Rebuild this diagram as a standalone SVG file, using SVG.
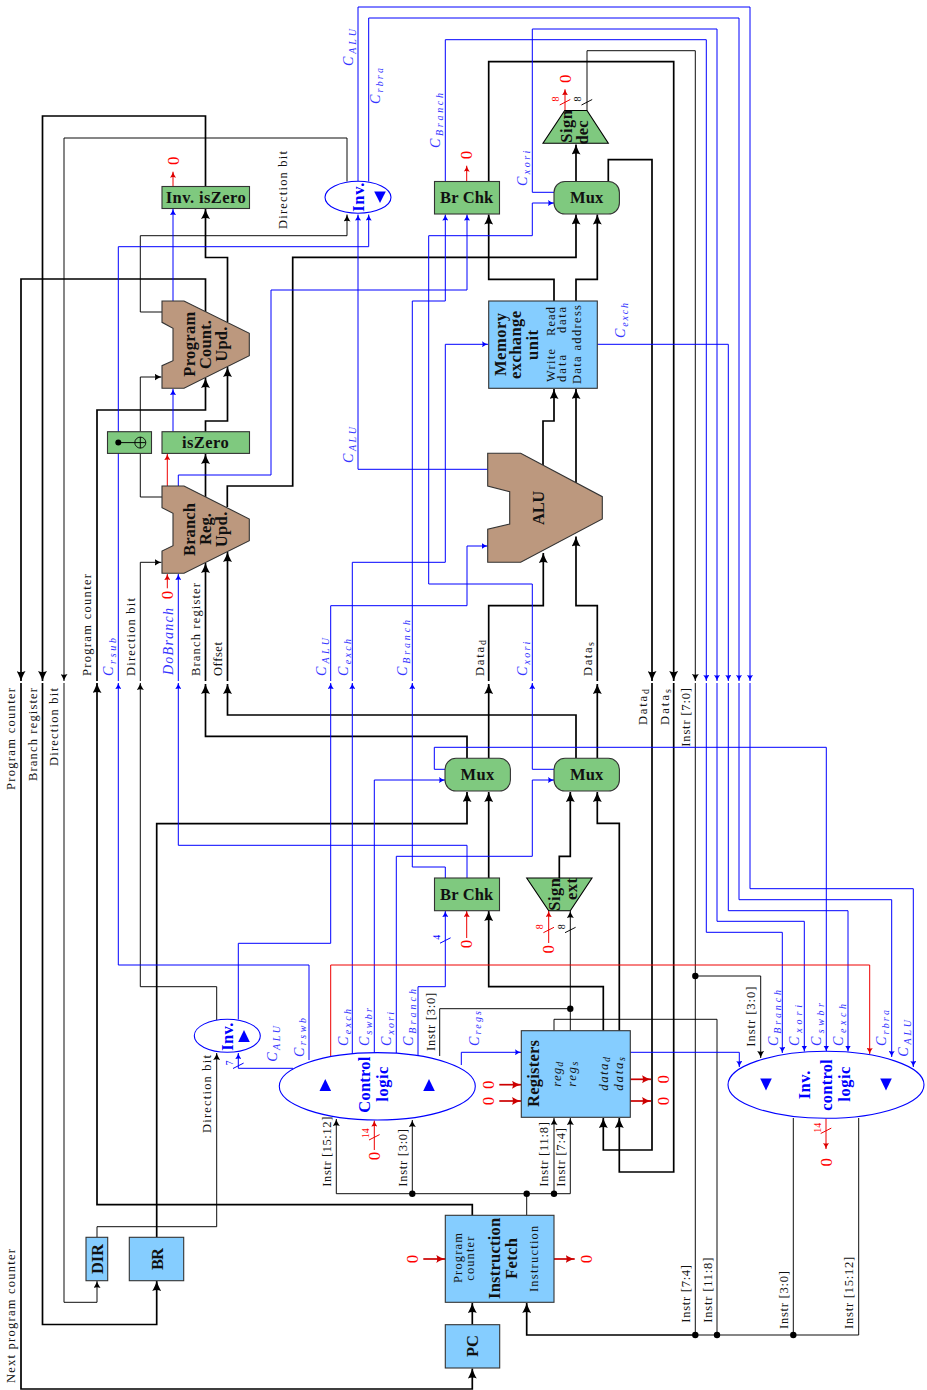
<svg xmlns="http://www.w3.org/2000/svg" width="927" height="1390" viewBox="0 0 927 1390">
<style>
path{fill:none}
.tk{stroke:#000;stroke-width:1.7}
.tn{stroke:#000;stroke-width:.95}
.b{stroke:#00f;stroke-width:1}
.r{stroke:#e00;stroke-width:1}
.rk{stroke:#c00;stroke-width:1.7}
.atk{marker-end:url(#ak)}
.atn{marker-end:url(#an)}
.ab{marker-end:url(#ab)}
.ar{marker-end:url(#ar)}
.ark{marker-end:url(#ark)}
.nb{stroke:#333;stroke-width:1.1}
.blue{fill:#85cdff}
.green{fill:#7fc97f}
.brown{fill:#bc987e}
.oval{fill:#fff;stroke:#00f;stroke-width:1.1}
text{font-family:"Liberation Serif","DejaVu Serif",serif;fill:#111}
.l{font-size:12.5px}
.i{font-size:13px;font-style:italic}
.m{font-size:14px;font-style:italic;fill:#3535ff}
.s{font-size:10px}
.h{font-size:16.5px;font-weight:bold}
.hb{font-size:16.5px;font-weight:bold;fill:#00f}
.z{font-size:17px;fill:#f00;text-anchor:middle}
.n{font-size:10px;text-anchor:middle}
.nr{font-size:10px;text-anchor:middle;fill:#f00}
.nu{font-size:10px;text-anchor:middle;fill:#00f}
</style>
<defs>
<marker id="ak" markerWidth="10" markerHeight="9" refX="10" refY="4.5" orient="auto" markerUnits="userSpaceOnUse"><path d="M10,4.5C7,3.5 3,2 0,0C1.5,2.5 1.5,6.5 0,9C3,7 7,5.5 10,4.5Z" style="fill:#000"/></marker>
<marker id="an" markerWidth="7" markerHeight="7" refX="7" refY="3.5" orient="auto" markerUnits="userSpaceOnUse"><path d="M7,3.5C5,3 2,1.5 0,0C1,2 1,5 0,7C2,5.5 5,4 7,3.5Z" style="fill:#000"/></marker>
<marker id="ab" markerWidth="6" markerHeight="6" refX="6" refY="3" orient="auto" markerUnits="userSpaceOnUse"><path d="M6,3C4,2.5 2,1.5 0,0C.8,2 .8,4 0,6C2,4.5 4,3.5 6,3Z" style="fill:#00f"/></marker>
<marker id="ar" markerWidth="6" markerHeight="6" refX="6" refY="3" orient="auto" markerUnits="userSpaceOnUse"><path d="M6,3C4,2.5 2,1.5 0,0C.8,2 .8,4 0,6C2,4.5 4,3.5 6,3Z" style="fill:#d00"/></marker>
<marker id="ark" markerWidth="9" markerHeight="8" refX="9" refY="4" orient="auto" markerUnits="userSpaceOnUse"><path d="M9,4C6,3.3 3,2 0,0C1.3,2.5 1.3,5.5 0,8C3,6 6,4.7 9,4Z" style="fill:#c00"/></marker>
</defs>
<g id="connectors">
<g class="tk">
<path class="atk" d="M205.5,186.5V116H42.5V681"/>
<path class="atk" d="M42.5,683V1324.5H156.7V1281"/>
<path class="atk" d="M205.5,312V279H21V681"/>
<path class="atk" d="M21,683V1389H472.3V1368.5"/>
<path class="atk" d="M227.5,322V257.5H205.5V209"/>
<path class="atk" d="M205.5,432V421H227.5V367"/>
<path class="atk" d="M472.3,1215.5V1204.7H97V683"/>
<path class="atk" d="M97,681V410H205.5V378"/>
<path class="atk" d="M205.5,497V454"/>
<path class="atk" d="M227.3,507V486H292.7V257.3H576V214.5"/>
<path class="atk" d="M467,758V736.3H205.5V684"/>
<path class="atk" d="M205.5,681V563"/>
<path class="atk" d="M576,758V715H227.5V684"/>
<path class="atk" d="M227.5,681V552"/>
<path class="atk" d="M488.7,758V684"/>
<path class="atk" d="M488.7,681V605.7H543.3V553"/>
<path class="atk" d="M597.3,758V684"/>
<path class="atk" d="M597.3,681V605.7H576V536.5"/>
<path class="atk" d="M543,465V421H554V389"/>
<path class="atk" d="M576,483V389"/>
<path class="atk" d="M554,301V279.3H488.7V214.5"/>
<path class="atk" d="M576,301V279.3H597.3V214.5"/>
<path class="atk" d="M576,181.5V144.5"/>
<path class="atk" d="M608.3,181.5V159.7H652V681"/>
<path class="atk" d="M652,683V1150H603.3V1118"/>
<path class="atk" d="M488.7,181.5V61.7H673.7V681"/>
<path class="atk" d="M673.7,683V1172H619.3V1118"/>
<path class="atk" d="M603.3,1030.7V986.7H488.7V911"/>
<path class="atk" d="M619.3,1030.7V823.3H597.3V792"/>
<path class="atk" d="M488.7,878V792"/>
<path class="atk" d="M559.3,878V856.3H570.3V792"/>
<path class="atk" d="M156.7,1237V823.7H467V792"/>
<path class="atk" d="M695.3,1335H526.7V1303"/>
<path class="atk" d="M472.3,1324.7V1303"/>
</g>
<g class="tn">
<path class="atn" d="M347,181.5V138H64V681"/>
<path class="atn" d="M64,683V1302.3H97V1281"/>
<path class="atn" d="M97,1237V1226.7H216.7V1053"/>
<path class="atn" d="M216.7,1020V986.7H140.3V683"/>
<path class="atn" d="M140.3,681V562.3H161.5"/>
<path d="M162,497H140.3V453.5"/>
<path class="atn" d="M140.3,431.7V377H161.5"/>
<path class="atn" d="M162,312H140.3V235.7H347V214.5"/>
<path class="atn" d="M587,110.5V50.7H695.3V681"/>
<path d="M695.3,683V1335H858.7V1118"/>
<path d="M793.3,1335V1118"/>
<path d="M717,1335V1019.3H554V1030.7"/>
<path class="atn" d="M695.3,976H760.7V1058"/>
<path class="atn" d="M570.3,1030.7V911"/>
<path d="M570.3,1008.7H439.7V1056"/>
<path class="atn" d="M570.3,1193.7H336.3V1119"/>
<path class="atn" d="M570.3,1193.7V1118"/>
<path class="atn" d="M554,1193.7V1118"/>
<path class="atn" d="M412.3,1193.7V1120"/>
<path d="M526.7,1215V1193.7"/>
</g>
<g class="b">
<path class="ab" d="M309,1060V965H118.3V683"/>
<path class="ab" d="M118.3,681V246.7H368.7V214.5"/>
<path class="ab" d="M238.3,1019.5V943.3H330.7V683"/>
<path class="ab" d="M330.7,681V605.7H467V546H487.5"/>
<path class="ab" d="M352.3,1054V683"/>
<path class="ab" d="M352.3,681V562.3H445.3V344.3H488"/>
<path class="ab" d="M374.3,1053V780H445"/>
<path class="ab" d="M396.3,1053V856.3H532.3V780H554"/>
<path class="ab" d="M418,1056V986.7H445.3V911"/>
<path class="ab" d="M461.3,1065V1052.3H521"/>
<path class="ab" d="M630.3,1052.3H739.3V1067"/>
<path class="ab" d="M445.3,181.5V39.7H706.3V681"/>
<path class="ab" d="M706.3,683V932.3H782.3V1053"/>
<path class="ab" d="M554,192.3H532.3V29H717V681"/>
<path class="ab" d="M717,683V921.3H804.3V1051.5"/>
<path class="ab" d="M597.3,344.3H728.3V681"/>
<path class="ab" d="M728.3,683V910.7H848V1051.5"/>
<path class="ab" d="M368.7,181.5V18H739V681"/>
<path class="ab" d="M739,683V899.7H891.7V1057"/>
<path class="ab" d="M358,181.5V7H750V681"/>
<path class="ab" d="M750,683V888.7H913.3V1067"/>
<path class="ab" d="M445,769.3H434.3V747.3H826.3V1051.5"/>
<path class="ab" d="M554,769.3H532.3V683"/>
<path class="ab" d="M532.3,681V584H428.7V235.7H532.3V203H554"/>
<path class="ab" d="M445.3,878V867H412.3V683"/>
<path class="ab" d="M412.3,681V301H445.3V214.5"/>
<path class="ab" d="M467,878V845.3H178.3V683"/>
<path class="ab" d="M178.3,681V574"/>
<path class="ab" d="M178.3,486V475H271V290H467V214.5"/>
<path class="ab" d="M173,431.7V389"/>
<path class="ab" d="M173,301V209"/>
<path class="ab" d="M487.7,469.3H358V214.5"/>
<path class="ab" d="M293,1068.3H238.3V1053"/>
</g>
<g class="r">
<path class="ar" d="M330.7,1056V965H869.7V1054"/>
<path class="ar" d="M173,186.5V171.7"/>
<path class="ar" d="M466.7,181.5V165.7"/>
<path class="ar" d="M565,110.5V89.3"/>
<path class="ar" d="M167.3,486V454"/>
<path class="ar" d="M167.3,588.3V574"/>
<path class="ar" d="M466.7,938V911"/>
<path class="ar" d="M548.7,943V911"/>
<path class="ar" d="M374.3,1150V1120.5"/>
<path class="ar" d="M826,1118.5V1149"/>
<path d="M559.7,105L570.3,99.5"/>
<path d="M543.4,932.7L554,927.3"/>
<path d="M369,1140L379.6,1134.6"/>
<path d="M820.7,1133.5L831.3,1128.1"/>
</g>
<g class="rk">
<path class="ark" d="M499.3,1084.7H521"/>
<path class="ark" d="M499.3,1101H521"/>
<path class="ark" d="M630.3,1079.3H651"/>
<path class="ark" d="M630.3,1101H651"/>
<path class="ark" d="M423.3,1259H445.3"/>
<path class="ark" d="M554,1259H574.7"/>
</g>
<path class="tn" d="M581.5,105L592.2,99.5M565,932.7L575.6,927.3"/>
<path class="b" d="M440,943.2L450.6,937.8M233,1068.5L243.6,1063.1"/>
<g style="fill:#000">
<circle cx="412.3" cy="1193.7" r="3.2"/>
<circle cx="526.7" cy="1193.7" r="3.2"/>
<circle cx="554" cy="1193.7" r="3.2"/>
<circle cx="570.3" cy="1008.7" r="3.2"/>
<circle cx="695.3" cy="976" r="3.2"/>
<circle cx="695.3" cy="1335" r="3.2"/>
<circle cx="717" cy="1335" r="3.2"/>
<circle cx="793.3" cy="1335" r="3.2"/>
</g>
</g>

<g id="inv-iszero"><rect class="green nb" x="162" y="186.5" width="87.5" height="22"/><text class="h" x="165.7" y="203.3" textLength="80">Inv. isZero</text></g>
<g id="inv-top"><ellipse class="oval" cx="358" cy="197.3" rx="33" ry="16"/><text class="hb" transform="translate(363.5,211.7) rotate(-90)" textLength="29">Inv.</text><path d="M374.2,191.5H385.8L380,203Z" style="fill:#00f"/></g>
<g id="brchk-top"><rect class="green nb" x="434.5" y="181.5" width="65" height="32.5"/><text class="h" x="440" y="203.3" textLength="53.3">Br Chk</text></g>
<g id="mux-top"><rect class="green nb" x="554" y="181.5" width="65.4" height="32.5" rx="11"/><text class="h" x="570" y="203.3" textLength="33.3">Mux</text></g>
<g id="sign-dec"><path d="M564.7,110.5H587L608.3,143.3H543Z" style="fill:#7fc97f;stroke:#000;stroke-width:1.1"/><text class="h" transform="translate(572,142.7) rotate(-90)" textLength="32.7">Sign</text><text class="h" transform="translate(588,144.5) rotate(-90)" textLength="24">dec</text></g>
<g id="memory"><rect class="blue nb" x="488.7" y="301" width="108.6" height="87.3"/>
<text class="h" transform="translate(506,376) rotate(-90)" textLength="63">Memory</text>
<text class="h" transform="translate(521,379) rotate(-90)" textLength="68">exchange</text>
<text class="h" transform="translate(538,360) rotate(-90)" textLength="30">unit</text>
<text class="l" transform="translate(554.5,382) rotate(-90)" textLength="33">Write</text>
<text class="l" transform="translate(565.5,382) rotate(-90)" textLength="27">data</text>
<text class="l" transform="translate(581,384) rotate(-90)" textLength="79">Data address</text>
<text class="l" transform="translate(554.5,336) rotate(-90)" textLength="29">Read</text>
<text class="l" transform="translate(565.5,333) rotate(-90)" textLength="26">data</text></g>
<g id="pc-upd"><path d="M162,301H184L249.3,333.3V355.7L184,388.3H162V365.7L173,360.7V328.3L162,322.3Z" style="fill:#bc987e;stroke:#333;stroke-width:1.1"/>
<text class="h" transform="translate(194.5,376.7) rotate(-90)" textLength="65">Program</text>
<text class="h" transform="translate(211,369) rotate(-90)" textLength="49">Count.</text>
<text class="h" transform="translate(227,361.7) rotate(-90)" textLength="35">Upd.</text></g>
<g id="iszero"><rect class="green nb" x="162" y="431.7" width="87.5" height="21.7"/><text class="h" x="182" y="448.3" textLength="46.7">isZero</text></g>
<g id="swap"><rect class="green nb" x="107.5" y="431.7" width="44" height="21.7"/><circle cx="118.3" cy="442.6" r="3" style="fill:#000"/><path class="tn" d="M118.3,442.6H145.6M140.3,437V448.2"/><circle cx="140.3" cy="442.6" r="5.5" style="fill:none;stroke:#000;stroke-width:.9"/></g>
<g id="branch-upd"><path d="M162,486H184L249.3,519V540.7L184,573.3H162V551L173,545.7V513.3L162,507.7Z" style="fill:#bc987e;stroke:#333;stroke-width:1.1"/>
<text class="h" transform="translate(194.5,556) rotate(-90)" textLength="53">Branch</text>
<text class="h" transform="translate(211,545) rotate(-90)" textLength="32">Reg.</text>
<text class="h" transform="translate(227,547.3) rotate(-90)" textLength="35.6">Upd.</text></g>
<g id="alu"><path d="M487.7,453.3H520.7L602.3,496.7V519L520.7,562.3H487.7V529.3L509.7,524V491.7L487.7,486Z" style="fill:#bc987e;stroke:#333;stroke-width:1.1"/><text class="h" transform="translate(544,525) rotate(-90)" textLength="34.3">ALU</text></g>
<g id="mux-l"><rect class="green nb" x="445" y="758.3" width="65.4" height="32.7" rx="11"/><text class="h" x="460.5" y="780" textLength="33.8">Mux</text></g>
<g id="mux-r"><rect class="green nb" x="554" y="758.3" width="65.4" height="32.7" rx="11"/><text class="h" x="570" y="780" textLength="33.3">Mux</text></g>
<g id="brchk-bot"><rect class="green nb" x="434.5" y="878" width="65" height="32.7"/><text class="h" x="440" y="899.7" textLength="53.3">Br Chk</text></g>
<g id="sign-ext"><path d="M526.7,878H592L570.3,910.7H548.7Z" style="fill:#7fc97f;stroke:#000;stroke-width:1.1"/><text class="h" transform="translate(560,910.7) rotate(-90)" textLength="32.7">Sign</text><text class="h" transform="translate(577,900) rotate(-90)" textLength="22">ext</text></g>
<g id="registers"><rect class="blue nb" x="521.3" y="1030.7" width="109" height="86.6"/>
<text class="h" transform="translate(539,1107) rotate(-90)" textLength="67">Registers</text>
<text class="i" transform="translate(561,1086.7) rotate(-90)" textLength="25">reg<tspan class="s" dy="2">d</tspan></text>
<text class="i" transform="translate(576,1086.7) rotate(-90)" textLength="25">reg<tspan class="s" dy="2">s</tspan></text>
<text class="i" transform="translate(608,1090.7) rotate(-90)" textLength="33.7">data<tspan class="s" dy="2">d</tspan></text>
<text class="i" transform="translate(623,1090.7) rotate(-90)" textLength="33.7">data<tspan class="s" dy="2">s</tspan></text></g>
<g id="control"><ellipse class="oval" cx="377.3" cy="1086.3" rx="98" ry="33.7"/><text class="hb" transform="translate(369.5,1112.7) rotate(-90)" textLength="56">Control</text><text class="hb" transform="translate(387.5,1101.7) rotate(-90)" textLength="35">logic</text><path d="M319.5,1091H331.1L325.3,1079Z" style="fill:#00f"/><path d="M423.2,1091H434.8L429,1079Z" style="fill:#00f"/></g>
<g id="inv-small"><ellipse class="oval" cx="227.3" cy="1035.8" rx="33" ry="16.5"/><text class="hb" transform="translate(232.7,1050.7) rotate(-90)" textLength="28">Inv.</text><path d="M238.2,1042H249.8L244,1030Z" style="fill:#00f"/></g>
<g id="inv-control"><ellipse class="oval" cx="826" cy="1084.8" rx="98" ry="33.5"/><text class="hb" transform="translate(810,1099.3) rotate(-90)" textLength="28.6">Inv.</text><text class="hb" transform="translate(832,1110.7) rotate(-90)" textLength="51.4">control</text><text class="hb" transform="translate(850,1101.7) rotate(-90)" textLength="35">logic</text><path d="M760.2,1078.5H771.8L766,1090.5Z" style="fill:#00f"/><path d="M880.2,1078.5H891.8L886,1090.5Z" style="fill:#00f"/></g>
<g id="dir"><rect class="blue nb" x="86" y="1237.3" width="21.7" height="43.4"/><text class="h" transform="translate(102.7,1274) rotate(-90)" textLength="30">DIR</text></g>
<g id="br"><rect class="blue nb" x="129.3" y="1237.3" width="54.4" height="43.4"/><text class="h" transform="translate(163,1270) rotate(-90)" textLength="22">BR</text></g>
<g id="instr-fetch"><rect class="blue nb" x="445.3" y="1215.3" width="108.7" height="87"/>
<text class="l" transform="translate(461.5,1283) rotate(-90)" textLength="50">Program</text>
<text class="l" transform="translate(474,1280.7) rotate(-90)" textLength="44">counter</text>
<text class="h" transform="translate(500,1299) rotate(-90)" textLength="81.3">Instruction</text>
<text class="h" transform="translate(516.7,1279) rotate(-90)" textLength="41">Fetch</text>
<text class="l" transform="translate(538,1292) rotate(-90)" textLength="66.3">Instruction</text></g>
<g id="pc"><rect class="blue nb" x="445.3" y="1324.7" width="54.4" height="43.3"/><text class="h" transform="translate(478,1357) rotate(-90)" textLength="22">PC</text></g>

<g id="labels">
<text class="l" transform="translate(14.7,790) rotate(-90)" textLength="102">Program counter</text>
<text class="l" transform="translate(36.5,781) rotate(-90)" textLength="93">Branch register</text>
<text class="l" transform="translate(58.3,766) rotate(-90)" textLength="78">Direction bit</text>
<text class="l" transform="translate(90.7,676) rotate(-90)" textLength="102">Program counter</text>
<text class="l" transform="translate(135,676) rotate(-90)" textLength="78">Direction bit</text>
<text class="l" transform="translate(200,676) rotate(-90)" textLength="93">Branch register</text>
<text class="l" transform="translate(221.5,676) rotate(-90)" textLength="34">Offset</text>
<text class="l" transform="translate(287,229) rotate(-90)" textLength="78">Direction bit</text>
<text class="l" transform="translate(211,1133) rotate(-90)" textLength="78">Direction bit</text>
<text class="l" transform="translate(14.7,1383) rotate(-90)" textLength="134">Next program counter</text>
<text class="l" transform="translate(483.5,676) rotate(-90)" textLength="36">Data<tspan class="s" dy="2">d</tspan></text>
<text class="l" transform="translate(592,676) rotate(-90)" textLength="34">Data<tspan class="s" dy="2">s</tspan></text>
<text class="l" transform="translate(647,725) rotate(-90)" textLength="36">Data<tspan class="s" dy="2">d</tspan></text>
<text class="l" transform="translate(668.5,725) rotate(-90)" textLength="36">Data<tspan class="s" dy="2">s</tspan></text>
<text class="l" transform="translate(690,746.7) rotate(-90)" textLength="58.7">Instr [7:0]</text>
<text class="l" transform="translate(690,1322.7) rotate(-90)" textLength="57.7">Instr [7:4]</text>
<text class="l" transform="translate(711.5,1322.7) rotate(-90)" textLength="65">Instr [11:8]</text>
<text class="l" transform="translate(788,1329) rotate(-90)" textLength="58">Instr [3:0]</text>
<text class="l" transform="translate(853,1329) rotate(-90)" textLength="72.3">Instr [15:12]</text>
<text class="l" transform="translate(548,1186.7) rotate(-90)" textLength="64.7">Instr [11:8]</text>
<text class="l" transform="translate(564.5,1186.7) rotate(-90)" textLength="58.7">Instr [7:4]</text>
<text class="l" transform="translate(331,1186.7) rotate(-90)" textLength="70">Instr [15:12]</text>
<text class="l" transform="translate(407,1186.7) rotate(-90)" textLength="57.7">Instr [3:0]</text>
<text class="l" transform="translate(755,1046.7) rotate(-90)" textLength="60">Instr [3:0]</text>
<text class="l" transform="translate(434.5,1051) rotate(-90)" textLength="58.3">Instr [3:0]</text>

<text class="m" transform="translate(113,676) rotate(-90)" textLength="38">C<tspan class="s" dy="2.5">rsub</tspan></text>
<text class="m" transform="translate(173,675) rotate(-90)" textLength="67">DoBranch</text>
<text class="m" transform="translate(326,676) rotate(-90)" textLength="38">C<tspan class="s" dy="2.5">ALU</tspan></text>
<text class="m" transform="translate(348,676) rotate(-90)" textLength="37">C<tspan class="s" dy="2.5">exch</tspan></text>
<text class="m" transform="translate(407,676) rotate(-90)" textLength="56">C<tspan class="s" dy="2.5">Branch</tspan></text>
<text class="m" transform="translate(527,676) rotate(-90)" textLength="34.3">C<tspan class="s" dy="2.5">xori</tspan></text>
<text class="m" transform="translate(353,66) rotate(-90)" textLength="37">C<tspan class="s" dy="2.5">ALU</tspan></text>
<text class="m" transform="translate(380,104) rotate(-90)" textLength="36">C<tspan class="s" dy="2.5">rbra</tspan></text>
<text class="m" transform="translate(440,148) rotate(-90)" textLength="55">C<tspan class="s" dy="2.5">Branch</tspan></text>
<text class="m" transform="translate(353,463) rotate(-90)" textLength="36">C<tspan class="s" dy="2.5">ALU</tspan></text>
<text class="m" transform="translate(527,186) rotate(-90)" textLength="35.3">C<tspan class="s" dy="2.5">xori</tspan></text>
<text class="m" transform="translate(625,338) rotate(-90)" textLength="35">C<tspan class="s" dy="2.5">exch</tspan></text>
<text class="m" transform="translate(277,1061.7) rotate(-90)" textLength="35.7">C<tspan class="s" dy="2.5">ALU</tspan></text>
<text class="m" transform="translate(303.5,1057) rotate(-90)" textLength="39">C<tspan class="s" dy="2.5">rswb</tspan></text>
<text class="m" transform="translate(348,1046) rotate(-90)" textLength="37">C<tspan class="s" dy="2.5">exch</tspan></text>
<text class="m" transform="translate(369,1046) rotate(-90)" textLength="38">C<tspan class="s" dy="2.5">swbr</tspan></text>
<text class="m" transform="translate(391,1046) rotate(-90)" textLength="34">C<tspan class="s" dy="2.5">xori</tspan></text>
<text class="m" transform="translate(413,1046) rotate(-90)" textLength="57">C<tspan class="s" dy="2.5">Branch</tspan></text>
<text class="m" transform="translate(478.5,1046) rotate(-90)" textLength="35">C<tspan class="s" dy="2.5">regs</tspan></text>
<text class="m" transform="translate(778,1046) rotate(-90)" textLength="56">C<tspan class="s" dy="2.5">Branch</tspan></text>
<text class="m" transform="translate(799,1046) rotate(-90)" textLength="41">C<tspan class="s" dy="2.5">xori</tspan></text>
<text class="m" transform="translate(821,1046) rotate(-90)" textLength="43">C<tspan class="s" dy="2.5">swbr</tspan></text>
<text class="m" transform="translate(843,1046) rotate(-90)" textLength="42">C<tspan class="s" dy="2.5">exch</tspan></text>
<text class="m" transform="translate(886,1046) rotate(-90)" textLength="36">C<tspan class="s" dy="2.5">rbra</tspan></text>
<text class="m" transform="translate(908,1056.7) rotate(-90)" textLength="36.7">C<tspan class="s" dy="2.5">ALU</tspan></text>

<text class="z" transform="translate(178.7,160.7) rotate(-90)">0</text>
<text class="z" transform="translate(472.4,155) rotate(-90)">0</text>
<text class="z" transform="translate(570.7,78.7) rotate(-90)">0</text>
<text class="z" transform="translate(173.4,595) rotate(-90)">0</text>
<text class="z" transform="translate(472.4,944) rotate(-90)">0</text>
<text class="z" transform="translate(554.4,949.3) rotate(-90)">0</text>
<text class="z" transform="translate(380.4,1156) rotate(-90)">0</text>
<text class="z" transform="translate(831.7,1162.3) rotate(-90)">0</text>
<text class="z" transform="translate(493.7,1084.7) rotate(-90)">0</text>
<text class="z" transform="translate(493.7,1101) rotate(-90)">0</text>
<text class="z" transform="translate(668.7,1079.3) rotate(-90)">0</text>
<text class="z" transform="translate(668.7,1101) rotate(-90)">0</text>
<text class="z" transform="translate(417.7,1259) rotate(-90)">0</text>
<text class="z" transform="translate(591.7,1259) rotate(-90)">0</text>

<text class="nr" transform="translate(559,99) rotate(-90)">8</text>
<text class="n" transform="translate(581,99) rotate(-90)">8</text>
<text class="nr" transform="translate(543,926.7) rotate(-90)">8</text>
<text class="n" transform="translate(565,926.7) rotate(-90)">8</text>
<text class="nr" transform="translate(369,1133.3) rotate(-90)">14</text>
<text class="nr" transform="translate(821,1127.7) rotate(-90)">14</text>
<text class="nu" transform="translate(440.3,937.3) rotate(-90)">4</text>
<text class="nu" transform="translate(232.6,1063) rotate(-90)">7</text>
</g>
</svg>
